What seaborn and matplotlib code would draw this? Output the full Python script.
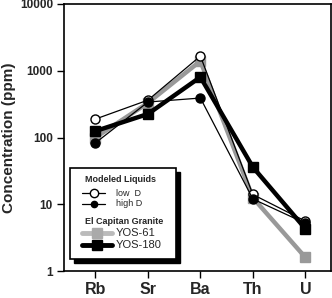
import matplotlib
matplotlib.use("Agg")
import matplotlib.pyplot as plt
import seaborn as sns
import pandas as pd
from matplotlib.lines import Line2D
from matplotlib.patches import Rectangle

sns.set_theme(style="white")
plt.rcParams['font.family'] = ['Liberation Sans', 'DejaVu Sans']

elements = ["Rb", "Sr", "Ba", "Th", "U"]
low_d = [189, 363, 1660, 14, 5.6]
high_d = [83, 340, 390, 12, 5.2]
yos61 = [100, 330, 1400, 12.5, 1.6]
yos180 = [125, 225, 805, 36, 4.3]

W, H = 332, 298
fig = plt.figure(figsize=(W / 100, H / 100), dpi=100)
ax = fig.add_axes([64 / W, 1 - 271 / H, 266.5 / W, 267 / H])

x = list(range(len(elements)))

def draw(vals, color, lw, marker, ms, mfc, mec, z):
    df = pd.DataFrame({"x": x, "y": vals})
    sns.lineplot(data=df, x="x", y="y", ax=ax, color=color, linewidth=lw,
                 marker=marker, markersize=ms, markerfacecolor=mfc,
                 markeredgecolor=mec, markeredgewidth=1, zorder=z)

draw(yos61, "#999999", 3.2, "s", 7.5, "#999999", "#999999", 2)
draw(yos180, "black", 3.2, "s", 7.5, "black", "black", 3)
draw(low_d, "black", 0.9, "o", 6.5, "white", "black", 4)
draw(high_d, "black", 0.9, "o", 6.5, "black", "black", 5)

ax.set_yscale("log")
ax.set_ylim(1, 10000)
ax.set_xlim(-0.6, 4.48)
ax.set_xticks(x)
ax.set_xticklabels(elements, fontsize=11.5, fontweight="bold")
ax.set_yticks([1, 10, 100, 1000, 10000])
ax.set_yticklabels(["1", "10", "100", "1000", "10000"], fontsize=8.5, fontweight="bold")
ax.minorticks_off()
ax.tick_params(axis="both", direction="out", length=5, width=1, color="black",
               left=True, bottom=True, pad=3)
ax.tick_params(axis="x", pad=3)
ax.set_xlabel("")
ax.set_ylabel("Concentration (ppm)", fontsize=11, fontweight="bold", labelpad=3)
for s in ax.spines.values():
    s.set_color("black")
    s.set_linewidth(1.2)

# ---- manual legend (pixel layout) ----
tf = fig.transFigure
def fx(px):
    return px / W
def fy(py):
    return 1 - py / H

bx0, bx1, by0, by1 = 70, 176, 168, 259
ax.add_patch(Rectangle((fx(bx0 + 4), fy(by1 + 4)), fx(bx1) - fx(bx0), fy(by0) - fy(by1),
                       transform=tf, facecolor="black", edgecolor="black",
                       clip_on=False, zorder=9))
ax.add_patch(Rectangle((fx(bx0), fy(by1)), fx(bx1) - fx(bx0), fy(by0) - fy(by1),
                       transform=tf, facecolor="white", edgecolor="black", lw=1.2,
                       clip_on=False, zorder=10))

ax.text(fx(85), fy(180), "Modeled Liquids", transform=tf, fontsize=6.5,
        fontweight="bold", va="center", ha="left", zorder=11)
ax.text(fx(85), fy(222), "El Capitan Granite", transform=tf, fontsize=6.5,
        fontweight="bold", va="center", ha="left", zorder=11)

rows = [
    (193, "low  D", dict(color="black", lw=0.9, marker="o", ms=6, mfc="white", mec="black"), 82, 105, 6.5),
    (204, "high D", dict(color="black", lw=0.9, marker="o", ms=4.5, mfc="black", mec="black"), 82, 105, 6.5),
    (233, "YOS-61", dict(color="#bbbbbb", lw=3.5, marker="s", ms=7, mfc="#aaaaaa", mec="#aaaaaa"), 82, 112, 8),
    (245, "YOS-180", dict(color="black", lw=3.5, marker="s", ms=7, mfc="black", mec="black"), 82, 112, 8),
]
for py, lab, st, x0, x1, fs in rows:
    ln = Line2D([fx(x0), fx(x1)], [fy(py), fy(py)], transform=tf, zorder=11,
                clip_on=False, color=st["color"], lw=st["lw"])
    ax.add_line(ln)
    mk = Line2D([fx((x0 + x1) / 2)], [fy(py)], transform=tf, zorder=12,
                clip_on=False, linestyle="none", marker=st["marker"], ms=st["ms"],
                mfc=st["mfc"], mec=st["mec"])
    ax.add_line(mk)
    ax.text(fx(116), fy(py), lab, transform=tf, fontsize=fs, va="center",
            ha="left", zorder=11)

fig.savefig("out.png", dpi=100)
